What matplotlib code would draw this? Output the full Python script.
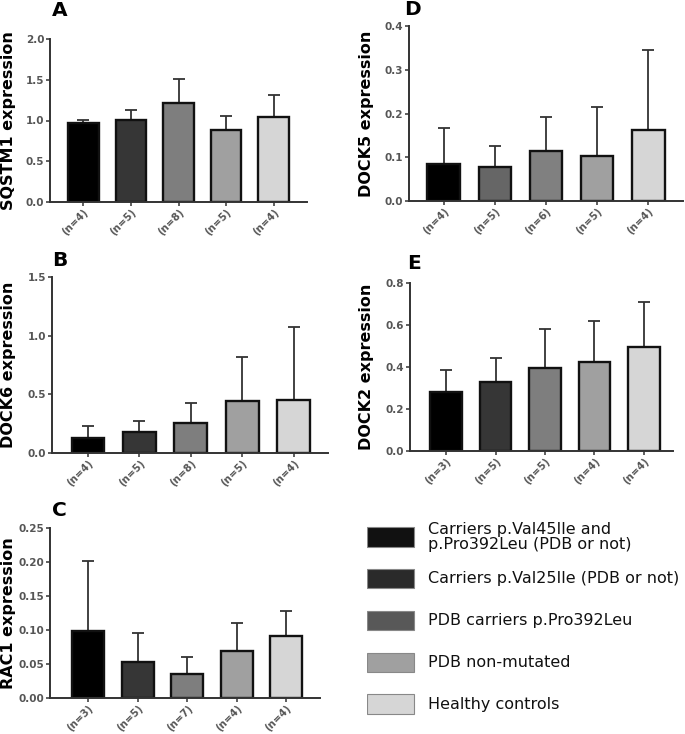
import matplotlib.pyplot as plt
from matplotlib.patches import Rectangle

# --- data ---
groups = ["Carriers p.Val45Ile and\np.Pro392Leu (PDB or not)",
          "Carriers p.Val25Ile (PDB or not)",
          "PDB carriers p.Pro392Leu",
          "PDB non-mutated",
          "Healthy controls"]
legend_colors = ["#111111", "#2a2a2a", "#585858", "#a0a0a0", "#d6d6d6"]

sqstm1_mean = [0.975, 1.005, 1.21, 0.88, 1.045]
sqstm1_top = [1.008, 1.13, 1.51, 1.06, 1.31]
sqstm1_n = ["(n=4)", "(n=5)", "(n=8)", "(n=5)", "(n=4)"]

dock6_mean = [0.128, 0.177, 0.257, 0.44, 0.448]
dock6_top = [0.228, 0.271, 0.43, 0.82, 1.07]
dock6_n = ["(n=4)", "(n=5)", "(n=8)", "(n=5)", "(n=4)"]

rac1_mean = [0.098, 0.0525, 0.036, 0.0696, 0.0917]
rac1_top = [0.2015, 0.0956, 0.061, 0.111, 0.128]
rac1_n = ["(n=3)", "(n=5)", "(n=7)", "(n=4)", "(n=4)"]

dock5_mean = [0.084, 0.078, 0.114, 0.104, 0.163]
dock5_top = [0.167, 0.126, 0.193, 0.214, 0.345]
dock5_n = ["(n=4)", "(n=5)", "(n=6)", "(n=5)", "(n=4)"]

dock2_mean = [0.28, 0.329, 0.395, 0.422, 0.493]
dock2_top = [0.384, 0.443, 0.582, 0.618, 0.711]
dock2_n = ["(n=3)", "(n=5)", "(n=5)", "(n=4)", "(n=4)"]

colors_main = ["#000000", "#363636", "#7e7e7e", "#a0a0a0", "#d6d6d6"]
colors_d = ["#000000", "#666666", "#808080", "#a0a0a0", "#d6d6d6"]

W, H = 685, 734
fig = plt.figure(figsize=(W / 100, H / 100), dpi=100)


def panel(letter, rect_px, letter_px, xlim, ylim, yticks, yfmt, mean, top, nlab, colors, ylabel, label_x):
    x0, ytop, x1, ybot = rect_px
    ax = fig.add_axes([x0 / W, 1 - ybot / H, (x1 - x0) / W, (ybot - ytop) / H])
    xs = range(len(mean))
    ax.bar(xs, mean, width=0.64, color=colors, edgecolor="#111111", linewidth=1.7, zorder=2)
    err_up = [t - m for t, m in zip(top, mean)]
    ax.errorbar(xs, mean, yerr=[[0] * len(mean), err_up], fmt="none",
                ecolor="#333333", elinewidth=1.3, capsize=4.5, capthick=1.3, zorder=1)
    ax.set_xlim(*xlim)
    ax.set_ylim(*ylim)
    ax.set_yticks(yticks)
    ax.set_yticklabels([yfmt.format(v) for v in yticks])
    ax.set_xticks(list(xs))
    ax.set_xticklabels(nlab, rotation=45, ha="right", rotation_mode="anchor")
    for sp in ["top", "right"]:
        ax.spines[sp].set_visible(False)
    for sp in ["left", "bottom"]:
        ax.spines[sp].set_linewidth(1.4)
        ax.spines[sp].set_color("#333333")
    ax.tick_params(axis="y", length=3, width=1.1, color="#333333", pad=1,
                   labelsize=7.5, labelcolor="#555555")
    ax.tick_params(axis="x", length=3, width=1.1, color="#333333", pad=1,
                   labelsize=7.3, labelcolor="#555555")
    for t in ax.get_xticklabels() + ax.get_yticklabels():
        t.set_fontweight("bold")
    ax.set_ylabel(ylabel, fontsize=11.5, fontweight="bold")
    ax.yaxis.set_label_coords((label_x - x0) / (x1 - x0), 0.5)
    fig.text(letter_px[0] / W, 1 - letter_px[1] / H, letter, fontsize=14.5,
             fontweight="bold", va="top")
    return ax


panel("A", (50, 39, 307, 202), (52, 1), (-0.7, 4.7), (0, 2.0), [0, 0.5, 1.0, 1.5, 2.0], "{:.1f}",
      sqstm1_mean, sqstm1_top, sqstm1_n, colors_main, "SQSTM1 expression", 16)
panel("D", (409, 26, 683, 201), (404, 0), (-0.68, 4.68), (0, 0.4), [0, 0.1, 0.2, 0.3, 0.4], "{:.1f}",
      dock5_mean, dock5_top, dock5_n, colors_d, "DOCK5 expression", 374)
panel("B", (52, 277, 328, 453), (52, 251), (-0.7, 4.67), (0, 1.5), [0, 0.5, 1.0, 1.5], "{:.1f}",
      dock6_mean, dock6_top, dock6_n, colors_main, "DOCK6 expression", 16)
panel("E", (410, 283, 673, 451), (407, 254), (-0.73, 4.59), (0, 0.8), [0, 0.2, 0.4, 0.6, 0.8], "{:.1f}",
      dock2_mean, dock2_top, dock2_n, colors_main, "DOCK2 expression", 374)
panel("C", (50, 528, 320, 698), (52, 501), (-0.77, 4.68), (0, 0.25), [0, 0.05, 0.10, 0.15, 0.20, 0.25], "{:.2f}",
      rac1_mean, rac1_top, rac1_n, colors_main, "RAC1 expression", 16)

# legend drawn in its own blank axes, one row per group
leg = fig.add_axes([367 / W, 1 - 725 / H, (W - 367) / W, 209 / H])
leg.set_xlim(0, W - 367)
leg.set_ylim(len(groups) - 0.5, -0.5)
leg.axis("off")
for i, (c, lab) in enumerate(zip(legend_colors, groups)):
    leg.add_patch(Rectangle((0, i - 0.23), 47, 0.46, facecolor=c, edgecolor="#888888", linewidth=0.8))
    leg.text(61, i, lab, fontsize=11.5, va="center", ha="left", color="#111111", linespacing=1.05)

fig.savefig("out.png", dpi=100)
